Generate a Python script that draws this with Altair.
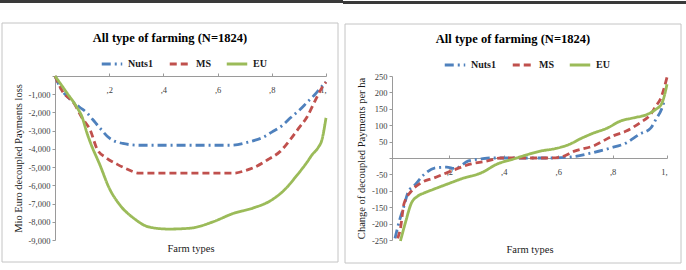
import altair as alt
import pandas as pd

TITLE = "All type of farming (N=1824)"
SERIES = ["Nuts1", "MS", "EU"]
COLORS = ["#4F81BD", "#C0504D", "#9BBB59"]
DASHES = [[9, 4, 2, 4], [7, 4], [1, 0]]

# Left panel: Mio Euro decoupled Payments loss
L_NUTS1_X = [0, 0.02, 0.05, 0.09, 0.12, 0.14, 0.166, 0.2, 0.25, 0.31, 0.5, 0.65, 0.72, 0.77, 0.8, 0.84, 0.87, 0.9, 0.93, 0.96, 0.98, 1.0]
L_NUTS1_Y = [0, -650, -1200, -1700, -2050, -2400, -2860, -3400, -3700, -3800, -3800, -3800, -3600, -3350, -3080, -2700, -2280, -1900, -1450, -1000, -650, -330]
L_MS_X = [0, 0.03, 0.067, 0.10, 0.13, 0.155, 0.19, 0.23, 0.265, 0.31, 0.5, 0.66, 0.70, 0.73, 0.79, 0.83, 0.87, 0.9, 0.93, 0.96, 0.985, 1.0]
L_MS_Y = [0, -900, -1430, -2300, -2970, -4000, -4500, -4850, -5100, -5330, -5330, -5330, -5200, -5050, -4550, -4150, -3450, -2850, -2250, -1350, -650, -330]
L_EU_X = [0, 0.044, 0.08, 0.1, 0.118, 0.13, 0.166, 0.2, 0.24, 0.29, 0.35, 0.42, 0.5, 0.58, 0.66, 0.73, 0.80, 0.85, 0.89, 0.93, 0.95, 0.97, 0.985, 1.0]
L_EU_Y = [0, -930, -1700, -2250, -3130, -3630, -4890, -6150, -7090, -7800, -8300, -8400, -8350, -8020, -7530, -7250, -6800, -6200, -5500, -4730, -4300, -3950, -3500, -2300]

# Right panel: Change of decoupled Payments per ha
R_NUTS1_X = [0.0, 0.015, 0.03, 0.05, 0.07, 0.107, 0.15, 0.19, 0.22, 0.27, 0.315, 0.35, 0.58, 0.645, 0.72, 0.79, 0.85, 0.90, 0.94, 0.96, 0.98, 0.99]
R_NUTS1_Y = [-245, -195, -155, -101, -85, -50, -30, -28, -32, -9, -3, 0, 0, 3, 15, 30, 46, 73, 91, 119, 149, 174]
R_MS_X = [0.01, 0.02, 0.033, 0.06, 0.095, 0.143, 0.205, 0.28, 0.34, 0.39, 0.57, 0.61, 0.66, 0.73, 0.80, 0.85, 0.90, 0.94, 0.96, 0.975, 1.0]
R_MS_Y = [-245, -215, -140, -101, -76, -61, -40, -18, -9, 0, 0, 3, 21, 37, 67, 82, 107, 133, 160, 178, 246]
R_EU_X = [0.02, 0.04, 0.059, 0.084, 0.106, 0.143, 0.194, 0.253, 0.315, 0.377, 0.436, 0.47, 0.535, 0.597, 0.645, 0.68, 0.73, 0.78, 0.83, 0.875, 0.93, 0.96, 0.98, 0.99, 1.0]
R_EU_Y = [-253, -192, -140, -116, -107, -95, -79, -61, -46, -18, -3, 6, 21, 30, 43, 58, 76, 91, 113, 122, 134, 149, 165, 189, 225]

L_YTICKS = [0, -1000, -2000, -3000, -4000, -5000, -6000, -7000, -8000, -9000]
R_YTICKS = [250, 200, 150, 100, 50, 0, -50, -100, -150, -200, -250]
XTICKS = [0.2, 0.4, 0.6, 0.8, 1.0]

SERIF = "Liberation Serif"


def table(xs_list, ys_list):
    rows = []
    for name, xs, ys in zip(SERIES, xs_list, ys_list):
        for i, (x, y) in enumerate(zip(xs, ys)):
            rows.append({"series": name, "x": x, "v": y, "i": i})
    return pd.DataFrame(rows)


def panel(df, width, height, xdom, ydom, yticks, ylabel_expr, ytitle, x_offset,
          ox, oy, page_left, page_right, title_x, title_y, legend_x, legend_y, ytitle_x):
    one = pd.DataFrame({"a": [1]})
    bar = alt.Chart(one).mark_rect(color="#3a3a3a").encode(
        x=alt.value(page_left - ox), x2=alt.value(page_right - ox),
        y=alt.value(0 - oy), y2=alt.value(3 - oy))
    box = alt.Chart(one).mark_rect(fillOpacity=0, stroke="#c4c4c4", strokeWidth=1).encode(
        x=alt.value(page_left + 2 - ox), x2=alt.value(page_left + 338 - ox),
        y=alt.value(23 - oy), y2=alt.value(262 - oy))
    title = alt.Chart(one).mark_text(font=SERIF, fontSize=12.5, fontWeight="bold",
                                     align="center", baseline="middle", color="#000000").encode(
        x=alt.value(title_x), y=alt.value(title_y), text=alt.value(TITLE))

    leg = alt.Legend(orient="none", legendX=legend_x, legendY=legend_y, direction="horizontal",
                     title=None, symbolType="stroke", symbolSize=420, symbolStrokeWidth=3,
                     labelFont=SERIF, labelFontSize=10, labelFontWeight="bold",
                     labelColor="#1a1a1a", columnPadding=9, labelOffset=4, padding=0)
    lines = alt.Chart(df).mark_line(strokeWidth=2.8, interpolate="monotone").encode(
        x=alt.X("x:Q", scale=alt.Scale(domain=xdom, nice=False, zero=False),
                axis=alt.Axis(orient="top", offset=x_offset, values=XTICKS, grid=False,
                              labelExpr="datum.value == 1 ? '1,' : ',' + round(datum.value * 10)",
                              labelFont=SERIF, labelFontSize=8.5, labelColor="#404040",
                              labelBaseline="middle", labelPadding=-16, tickSize=3,
                              tickColor="#9a9a9a", domainColor="#9a9a9a",
                              title="Farm types", titleFont=SERIF, titleFontSize=10.5,
                              titleFontWeight="normal", titleColor="#1a1a1a",
                              titleBaseline="middle", titleY=248 - oy - (height if False else 0) - (0 if x_offset == 0 else -x_offset))),
        y=alt.Y("v:Q", scale=alt.Scale(domain=ydom, nice=False, zero=False),
                axis=alt.Axis(values=yticks, grid=False, labelExpr=ylabel_expr,
                              labelFont=SERIF, labelFontSize=8.5, labelColor="#404040",
                              labelPadding=2, tickSize=3, tickColor="#9a9a9a",
                              domainColor="#9a9a9a", title=ytitle, titleFont=SERIF,
                              titleFontSize=10.5, titleFontWeight="normal", titleColor="#1a1a1a",
                              titleBaseline="middle", titleX=ytitle_x)),
        color=alt.Color("series:N", scale=alt.Scale(domain=SERIES, range=COLORS), legend=leg),
        strokeDash=alt.StrokeDash("series:N", scale=alt.Scale(domain=SERIES, range=DASHES), legend=leg),
        order="i:Q",
    )
    return alt.layer(bar, box, title, lines).properties(width=width, height=height)


left_df = table([L_NUTS1_X, L_MS_X, L_EU_X], [L_NUTS1_Y, L_MS_Y, L_EU_Y])
right_df = table([R_NUTS1_X, R_MS_X, R_EU_X], [R_NUTS1_Y, R_MS_Y, R_EU_Y])

left = panel(left_df, 271, 164, [0, 1], [-9000, 0], L_YTICKS,
             "datum.value == 0 ? '' : '-' + format(-datum.value, ',')",
             "Mio Euro decoupled Payments loss", 0,
             55, 76, 0, 343, 115, -38, 45, -24, -37)
right = panel(right_df, 275, 164, [-0.011, 1], [-250, 250], R_YTICKS,
              "datum.value == 0 ? '' : (datum.value < 0 ? '-' + format(-datum.value, 'd') : format(datum.value, 'd'))",
              "Change of decoupled Payments per ha", -82,
              392, 75, 343, 686, 121, -37, 51, -23, -31)

chart = alt.hconcat(left, right, spacing=0).resolve_legend(
    color="independent", strokeDash="independent"
).properties(padding=0, background="white").configure_view(stroke=None)

chart.save("out.html", embed_options={"renderer": "svg", "actions": False})
